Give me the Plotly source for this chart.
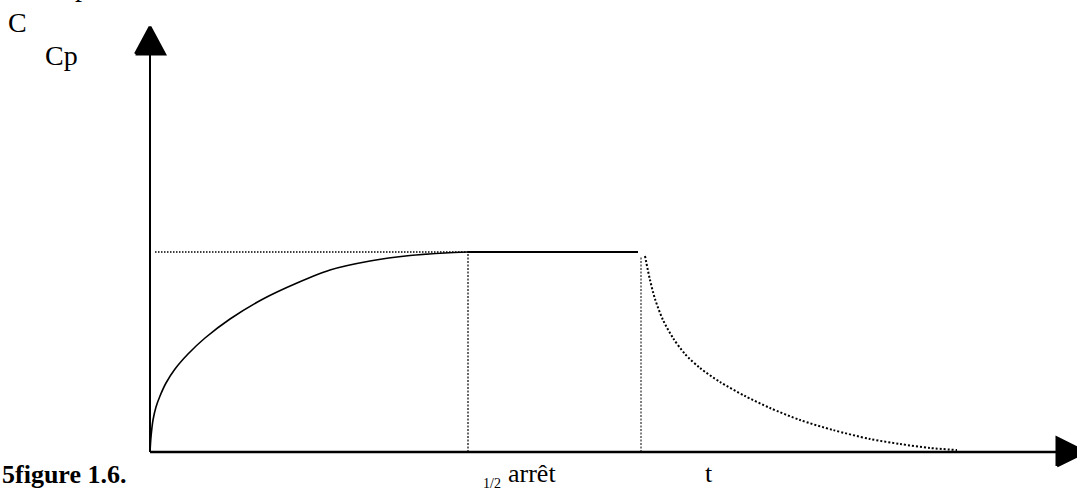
import plotly.graph_objects as go

# ---------------- data (time in arbitrary units, concentration relative to Cp) ----------------
t_rise = [0.0, 0.01, 0.03, 0.06, 0.10, 0.16, 0.25, 0.38, 0.55, 0.80, 1.13, 1.47, 1.80, 2.20, 2.60, 2.95, 3.18]
c_rise = [0.0, 0.075, 0.16, 0.225, 0.28, 0.345, 0.415, 0.49, 0.57, 0.665, 0.765, 0.845, 0.91, 0.955, 0.9825, 0.995, 1.0]

t_plateau = [3.18, 4.88]
c_plateau = [1.0, 1.0]

t_decay = [4.95, 5.00, 5.05, 5.13, 5.23, 5.35, 5.50, 5.70, 5.95, 6.20, 6.50, 6.83, 7.20, 7.50, 7.80, 8.07]
c_decay = [0.98, 0.86, 0.765, 0.66, 0.57, 0.49, 0.42, 0.35, 0.28, 0.22, 0.16, 0.11, 0.065, 0.04, 0.02, 0.01]

C_P = 1.0          # plateau concentration Cp
T_SS = 3.18        # time to reach plateau
T_STOP = 4.91      # time of stop ("arrêt")
T_REF_START = 0.05
T_AXIS_END = 9.25
C_AXIS_END = 2.1

labels_top = ["C", "Cp"]
caption = "5figure 1.6."

# ---------------- layout helpers (pixel <-> data) ----------------
W, H = 1077, 491
X0_PX, Y0_PX = 150, 452     # origin in pixels
SX, SY = 100.0, 200.0       # px per unit
X_RANGE = [(0 - X0_PX) / SX, (W - X0_PX) / SX]
Y_RANGE = [(Y0_PX - H) / SY, (Y0_PX - 0) / SY]


def px_x(x):
    return (x - X0_PX) / SX


def px_y(y):
    return (Y0_PX - y) / SY


BLACK = "#000000"
fig = go.Figure()

# axes lines
fig.add_trace(go.Scatter(x=[0, 0], y=[0, C_AXIS_END], mode="lines",
                         line=dict(color=BLACK, width=2), hoverinfo="skip"))
fig.add_trace(go.Scatter(x=[0, T_AXIS_END], y=[0, 0], mode="lines",
                         line=dict(color=BLACK, width=2.5), hoverinfo="skip"))

# arrowheads (computed from axis ends)
ah_w, ah_h = 14.5 / SX, 27.0 / SY
tip_y = px_y(27)
fig.add_trace(go.Scatter(x=[-ah_w, ah_w, 0, -ah_w], y=[tip_y - ah_h, tip_y - ah_h, tip_y, tip_y - ah_h],
                         mode="lines", fill="toself", fillcolor=BLACK,
                         line=dict(color=BLACK, width=3), hoverinfo="skip"))
hx0 = px_x(1057)
hh_w, hh_h = 28.0 / SX, 14.0 / SY
fig.add_trace(go.Scatter(x=[hx0, hx0, hx0 + hh_w, hx0], y=[-hh_h, hh_h, 0, -hh_h],
                         mode="lines", fill="toself", fillcolor=BLACK,
                         line=dict(color=BLACK, width=3), hoverinfo="skip"))

# dotted reference line at Cp
fig.add_trace(go.Scatter(x=[T_REF_START, T_SS], y=[C_P, C_P], mode="lines",
                         line=dict(color=BLACK, width=1.5, dash="1.5px,1.5px"), hoverinfo="skip"))
# dotted verticals
fig.add_trace(go.Scatter(x=[T_SS, T_SS], y=[0, C_P], mode="lines",
                         line=dict(color=BLACK, width=1.2, dash="2px,1.5px"), hoverinfo="skip"))
fig.add_trace(go.Scatter(x=[T_STOP, T_STOP], y=[0, c_decay[0]], mode="lines",
                         line=dict(color=BLACK, width=1, dash="2px,1.5px"), hoverinfo="skip"))

# rising curve
fig.add_trace(go.Scatter(x=t_rise, y=c_rise, mode="lines",
                         line=dict(color=BLACK, width=1.6, shape="spline", smoothing=0.8), hoverinfo="skip"))
# plateau
fig.add_trace(go.Scatter(x=t_plateau, y=c_plateau, mode="lines",
                         line=dict(color=BLACK, width=2), hoverinfo="skip"))
# decay (dotted)
fig.add_trace(go.Scatter(x=t_decay, y=c_decay, mode="lines",
                         line=dict(color=BLACK, width=2, dash="2px,2px", shape="spline", smoothing=0.8),
                         hoverinfo="skip"))

SERIF = "Liberation Serif, Times New Roman, serif"


def text(s, x_px, y_px, size, bold=False):
    fig.add_annotation(x=x_px / W, y=1 - y_px / H, xref="paper", yref="paper",
                       text=("<b>%s</b>" % s) if bold else s,
                       showarrow=False, xanchor="left", yanchor="middle",
                       font=dict(family=SERIF, size=size, color=BLACK), borderpad=0)


text("p", 74, -13, 28)
text(labels_top[0], 7, 22, 28)
text(labels_top[1], 44, 55, 28)
text(caption, 1, 474, 26, bold=True)
text("1/2", 482, 483, 14)
text("arrêt", 507, 473, 26)
text("t", 704, 473, 26)

fig.update_layout(
    width=W, height=H, margin=dict(l=0, r=0, t=0, b=0),
    paper_bgcolor="white", plot_bgcolor="white", showlegend=False,
    xaxis=dict(range=X_RANGE, visible=False, fixedrange=True),
    yaxis=dict(range=Y_RANGE, visible=False, fixedrange=True),
)

fig.write_html("out.html", config={"displayModeBar": False},
               post_script="document.body.style.margin='0';document.body.style.overflow='hidden';")
